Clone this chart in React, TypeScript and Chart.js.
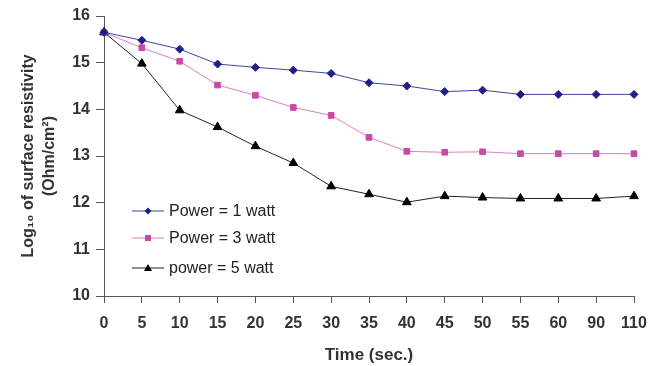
import React, { useEffect, useRef } from "react";
import { Chart, registerables } from "chart.js";

Chart.register(...registerables);

const timeLabels = ["0", "5", "10", "15", "20", "25", "30", "35", "40", "45", "50", "55", "60", "90", "110"];
const power1 = [15.65, 15.48, 15.29, 14.97, 14.9, 14.84, 14.77, 14.57, 14.5, 14.38, 14.41, 14.32, 14.32, 14.32, 14.32];
const power3 = [15.65, 15.32, 15.03, 14.52, 14.3, 14.04, 13.87, 13.4, 13.1, 13.08, 13.09, 13.05, 13.05, 13.05, 13.05];
const power5 = [15.65, 14.98, 13.98, 13.62, 13.21, 12.85, 12.35, 12.18, 12.01, 12.14, 12.11, 12.09, 12.09, 12.09, 12.14];
const seriesNames = ["Power = 1 watt", "Power = 3 watt", "power = 5 watt"];

const axisColor = "#555555";
const textColor = "#333333";
const fontFamily = "'Liberation Sans', Arial, sans-serif";

const insideLegend = {
  id: "insideLegend",
  afterDraw(chart: any) {
    const ctx = chart.ctx;
    const ys = [211, 238, 268];
    ctx.save();
    chart.data.datasets.forEach((ds: any, i: number) => {
      const y = ys[i];
      ctx.strokeStyle = ds.borderColor;
      ctx.lineWidth = 1;
      ctx.beginPath();
      ctx.moveTo(132, y);
      ctx.lineTo(164, y);
      ctx.stroke();
      ctx.fillStyle = ds.pointBackgroundColor;
      const cx = 148;
      const r = 3.5;
      ctx.beginPath();
      if (ds.pointStyle === "rectRot") {
        ctx.moveTo(cx, y - r);
        ctx.lineTo(cx + r, y);
        ctx.lineTo(cx, y + r);
        ctx.lineTo(cx - r, y);
      } else if (ds.pointStyle === "rect") {
        ctx.rect(cx - 3, y - 3, 6, 6);
      } else {
        ctx.moveTo(cx, y - 4);
        ctx.lineTo(cx + 4, y + 3);
        ctx.lineTo(cx - 4, y + 3);
      }
      ctx.closePath();
      ctx.fill();
      ctx.fillStyle = "#222222";
      ctx.font = "16px " + fontFamily;
      ctx.textBaseline = "middle";
      ctx.textAlign = "left";
      ctx.fillText(ds.label, 169, y + 1);
    });
    ctx.restore();
  },
};

export default function App() {
  const ref = useRef<HTMLCanvasElement>(null);
  useEffect(() => {
    const canvas = ref.current!;
    const chart = new Chart(canvas, {
      type: "line",
      data: {
        labels: timeLabels,
        datasets: [
          {
            label: seriesNames[0],
            data: power1,
            borderColor: "#4444a0",
            backgroundColor: "#1f1f8a",
            pointBackgroundColor: "#1f1f8a",
            pointBorderColor: "#1f1f8a",
            pointStyle: "rectRot",
            pointRadius: 4,
            borderWidth: 1,
          },
          {
            label: seriesNames[1],
            data: power3,
            borderColor: "#e27cc4",
            backgroundColor: "#cc48a6",
            pointBackgroundColor: "#cc48a6",
            pointBorderColor: "#cc48a6",
            pointStyle: "rect",
            pointRadius: 4,
            borderWidth: 1,
          },
          {
            label: seriesNames[2],
            data: power5,
            borderColor: "#222222",
            backgroundColor: "#000000",
            pointBackgroundColor: "#000000",
            pointBorderColor: "#000000",
            pointStyle: "triangle",
            pointRadius: 5,
            borderWidth: 1,
          },
        ] as any,
      },
      options: {
        animation: false,
        responsive: false,
        layout: { padding: { left: 0, top: 16, right: 16, bottom: 0 } },
        plugins: { legend: { display: false }, tooltip: { enabled: false } },
        scales: {
          x: {
            type: "category",
            offset: false,
            grid: {
              display: true,
              drawOnChartArea: false,
              drawTicks: true,
              tickLength: 7,
              color: axisColor,
            },
            border: { color: axisColor, width: 1 },
            ticks: {
              color: textColor,
              font: { family: fontFamily, size: 16, weight: "bold" },
              padding: 11,
              maxRotation: 0,
              autoSkip: false,
            },
            title: {
              display: true,
              text: "Time (sec.)",
              color: textColor,
              font: { family: fontFamily, size: 17, weight: "bold" },
              padding: { top: 8, bottom: 0 },
            },
            afterFit(scale: any) {
              scale.height = 70;
              scale.paddingRight = 0;
              scale.paddingLeft = 0;
            },
          },
          y: {
            min: 10,
            max: 16,
            grid: {
              display: true,
              drawOnChartArea: false,
              drawTicks: true,
              tickLength: 8,
              color: axisColor,
            },
            border: { color: axisColor, width: 1 },
            ticks: {
              stepSize: 1,
              color: textColor,
              font: { family: fontFamily, size: 16, weight: "bold" },
              padding: 6,
            },
            title: {
              display: true,
              text: ["Log\u2081\u2080 of surface resistivity", "(Ohm/cm\u00b2)"],
              color: textColor,
              font: { family: fontFamily, size: 16, weight: "bold", lineHeight: 1.3 },
              padding: { top: 18, bottom: 6 },
            },
            afterFit(scale: any) {
              scale.width = 104;
            },
          },
        },
      },
      plugins: [insideLegend],
    });
    return () => chart.destroy();
  }, []);
  return (
    <div style={{ position: "fixed", left: 0, top: 0, width: 650, height: 366, background: "#fff" }}>
      <canvas ref={ref} width={650} height={366} style={{ width: 650, height: 366 }} />
    </div>
  );
}
